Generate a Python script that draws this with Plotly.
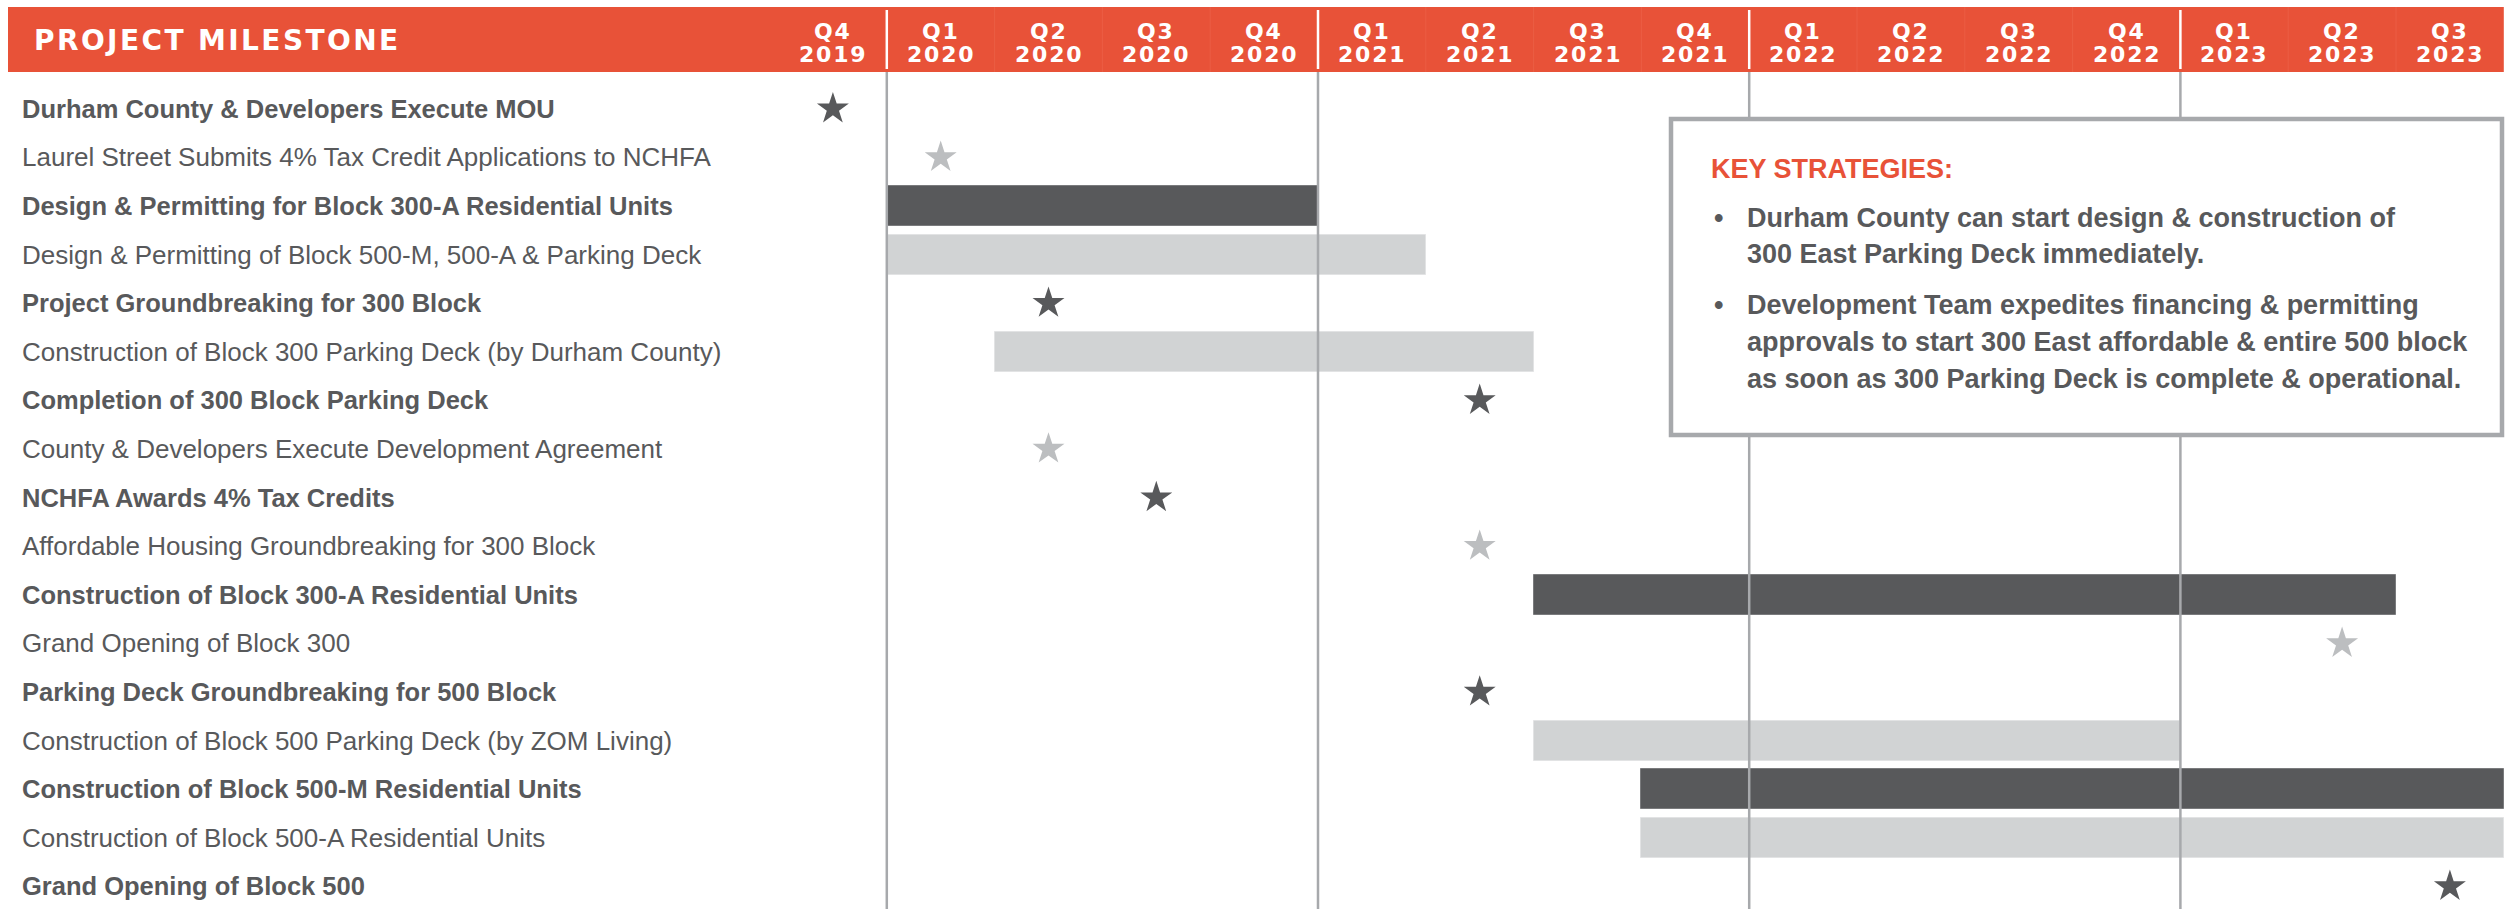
import plotly.graph_objects as go

# ---------------- data ----------------
QUARTERS = ["Q4 2019", "Q1 2020", "Q2 2020", "Q3 2020", "Q4 2020",
            "Q1 2021", "Q2 2021", "Q3 2021", "Q4 2021",
            "Q1 2022", "Q2 2022", "Q3 2022", "Q4 2022",
            "Q1 2023", "Q2 2023", "Q3 2023"]
QTR_LABELS = ["Q4", "Q1", "Q2", "Q3", "Q4", "Q1", "Q2", "Q3", "Q4",
              "Q1", "Q2", "Q3", "Q4", "Q1", "Q2", "Q3"]
YEAR_LABELS = ["2019", "2020", "2020", "2020", "2020", "2021", "2021", "2021", "2021",
               "2022", "2022", "2022", "2022", "2023", "2023", "2023"]

MILESTONES = [
    "Durham County & Developers Execute MOU",
    "Laurel Street Submits 4% Tax Credit Applications to NCHFA",
    "Design & Permitting for Block 300-A Residential Units",
    "Design & Permitting of Block 500-M, 500-A & Parking Deck",
    "Project Groundbreaking for 300 Block",
    "Construction of Block 300 Parking Deck (by Durham County)",
    "Completion of 300 Block Parking Deck",
    "County & Developers Execute Development Agreement",
    "NCHFA Awards 4% Tax Credits",
    "Affordable Housing Groundbreaking for 300 Block",
    "Construction of Block 300-A Residential Units",
    "Grand Opening of Block 300",
    "Parking Deck Groundbreaking for 500 Block",
    "Construction of Block 500 Parking Deck (by ZOM Living)",
    "Construction of Block 500-M Residential Units",
    "Construction of Block 500-A Residential Units",
    "Grand Opening of Block 500",
]
LABEL_BOLD = [True, False, True, False, True, False, True, False, True,
              False, True, False, True, False, True, False, True]

BAR_TASKS = [
    "Design & Permitting for Block 300-A Residential Units",
    "Design & Permitting of Block 500-M, 500-A & Parking Deck",
    "Construction of Block 300 Parking Deck (by Durham County)",
    "Construction of Block 300-A Residential Units",
    "Construction of Block 500 Parking Deck (by ZOM Living)",
    "Construction of Block 500-M Residential Units",
    "Construction of Block 500-A Residential Units",
]
BAR_START = ["Q1 2020", "Q1 2020", "Q2 2020", "Q3 2021", "Q3 2021", "Q4 2021", "Q4 2021"]
BAR_END = ["Q4 2020", "Q1 2021", "Q2 2021", "Q2 2023", "Q4 2022", "Q3 2023", "Q3 2023"]
BAR_SHADE = ["dark", "light", "light", "dark", "light", "dark", "light"]

STAR_TASKS = [
    "Durham County & Developers Execute MOU",
    "Laurel Street Submits 4% Tax Credit Applications to NCHFA",
    "Project Groundbreaking for 300 Block",
    "Completion of 300 Block Parking Deck",
    "County & Developers Execute Development Agreement",
    "NCHFA Awards 4% Tax Credits",
    "Affordable Housing Groundbreaking for 300 Block",
    "Grand Opening of Block 300",
    "Parking Deck Groundbreaking for 500 Block",
    "Grand Opening of Block 500",
]
STAR_QUARTER = ["Q4 2019", "Q1 2020", "Q2 2020", "Q2 2021", "Q2 2020",
                "Q3 2020", "Q2 2021", "Q2 2023", "Q2 2021", "Q3 2023"]
STAR_SHADE = ["dark", "light", "dark", "dark", "light",
              "dark", "light", "light", "dark", "dark"]

KEY_TITLE = "KEY STRATEGIES:"
KEY_BULLETS = [
    ["Durham County can start design & construction of",
     "300 East Parking Deck immediately."],
    ["Development Team expedites financing & permitting",
     "approvals to start 300 East affordable & entire 500 block",
     "as soon as 300 Parking Deck is complete & operational."],
]

# ---------------- style ----------------
W, H = 2516, 909
ORANGE = "#E85238"
DARK = "#58595B"
LIGHT = "#D1D3D4"
LIGHT_STAR = "#BCBEC0"
GRID = "#A7A9AC"
TEXT = "#58595B"
SANS = "Liberation Sans, Arial, Helvetica, sans-serif"
WIDE = "DejaVu Sans, Verdana, sans-serif"

X0_PX, Q_PX = 779.0, 107.8          # left edge of first quarter, quarter width
ROW0_PX, ROW_PX = 108.8, 48.6       # first row centre, row pitch
HEAD_TOP, HEAD_BOT = 7, 72

def px_x(p):
    return p / W

def px_y(p):
    return 1 - p / H

SHADE_COL = {"dark": DARK, "light": LIGHT}
SHADE_LINE = {"dark": "#7A7B7D", "light": "#E2E3E4"}
STAR_COL = {"dark": DARK, "light": LIGHT_STAR}

fig = go.Figure()

# bars
for shade in ["light", "dark"]:
    ys, xs, bases = [], [], []
    for t, s, e, sh in zip(BAR_TASKS, BAR_START, BAR_END, BAR_SHADE):
        if sh != shade:
            continue
        si = QUARTERS.index(s)
        ei = QUARTERS.index(e) + 1
        ys.append(MILESTONES.index(t))
        bases.append(si)
        xs.append(ei - si)
    fig.add_trace(go.Bar(
        orientation="h", y=ys, x=xs, base=bases, width=40 / ROW_PX,
        marker=dict(color=SHADE_COL[shade], line=dict(color=SHADE_LINE[shade], width=1)),
        hoverinfo="skip", showlegend=False,
    ))

# stars
for shade in ["light", "dark"]:
    xs, ys = [], []
    for t, q, sh in zip(STAR_TASKS, STAR_QUARTER, STAR_SHADE):
        if sh != shade:
            continue
        xs.append(QUARTERS.index(q) + 0.5)
        ys.append(MILESTONES.index(t))
    fig.add_trace(go.Scatter(
        x=xs, y=ys, mode="markers",
        marker=dict(symbol="star", size=24, color=STAR_COL[shade], line=dict(width=0)),
        hoverinfo="skip", showlegend=False,
    ))

shapes = []
# header band
shapes.append(dict(type="rect", xref="paper", yref="paper",
                   x0=px_x(8), x1=px_x(X0_PX + Q_PX * len(QUARTERS)),
                   y0=px_y(HEAD_BOT), y1=px_y(HEAD_TOP),
                   fillcolor=ORANGE, line=dict(width=0), layer="below"))
# header separators
for i in range(1, len(QUARTERS)):
    if QTR_LABELS[i] == "Q1":
        shapes.append(dict(type="line", xref="x", yref="paper", x0=i, x1=i,
                           y0=px_y(69), y1=px_y(10),
                           line=dict(color="white", width=2.5), layer="above"))
    else:
        shapes.append(dict(type="line", xref="x", yref="paper", x0=i, x1=i,
                           y0=px_y(HEAD_BOT), y1=px_y(HEAD_TOP),
                           line=dict(color="#EB5D44", width=1), layer="above"))
# vertical year grid lines (drawn above bars)
for i in range(1, len(QUARTERS)):
    if QTR_LABELS[i] == "Q1":
        shapes.append(dict(type="line", xref="x", yref="paper", x0=i, x1=i,
                           y0=0, y1=px_y(HEAD_BOT),
                           line=dict(color=GRID, width=2.5), layer="above"))
# key strategies box
shapes.append(dict(type="rect", xref="paper", yref="paper",
                   x0=px_x(1671), x1=px_x(2502), y0=px_y(435), y1=px_y(119),
                   fillcolor="white", line=dict(color=GRID, width=4.5), layer="above"))

annotations = []
# header title
annotations.append(dict(
    xref="paper", yref="paper", x=px_x(32), y=px_y((HEAD_TOP + HEAD_BOT) / 2 + 1),
    xanchor="left", yanchor="middle", showarrow=False,
    text='<b><span style="letter-spacing:2.4px">PROJECT MILESTONE</span></b>',
    font=dict(family=WIDE, size=28, color="white")))
# quarter labels
for i, (q, y) in enumerate(zip(QTR_LABELS, YEAR_LABELS)):
    annotations.append(dict(
        xref="x", yref="paper", x=i + 0.5, y=px_y(31), xanchor="center", yanchor="middle",
        showarrow=False, text='<b><span style="letter-spacing:1.8px">%s</span></b>' % q,
        font=dict(family=WIDE, size=22, color="white")))
    annotations.append(dict(
        xref="x", yref="paper", x=i + 0.5, y=px_y(54), xanchor="center", yanchor="middle",
        showarrow=False, text='<b><span style="letter-spacing:1.8px">%s</span></b>' % y,
        font=dict(family=WIDE, size=22, color="white")))
# row labels
for i, (lab, b) in enumerate(zip(MILESTONES, LABEL_BOLD)):
    annotations.append(dict(
        xref="paper", yref="y", x=px_x(20), y=i, xanchor="left", yanchor="middle",
        showarrow=False, text=("<b>%s</b>" % lab) if b else lab,
        font=dict(family=SANS, size=25.5 if b else 26, color=TEXT)))
# key strategies text
KEY_SIZE = 27
annotations.append(dict(
    xref="paper", yref="paper", x=px_x(1709), y=px_y(168.5), xanchor="left", yanchor="middle",
    showarrow=False, text="<b>%s</b>" % KEY_TITLE,
    font=dict(family=SANS, size=KEY_SIZE, color=ORANGE)))
line_y = [[218, 254], [305, 342, 379]]
for bullet, ys in zip(KEY_BULLETS, line_y):
    annotations.append(dict(
        xref="paper", yref="paper", x=px_x(1718), y=px_y(ys[0]), xanchor="center",
        yanchor="middle", showarrow=False, text="<b>•</b>",
        font=dict(family=SANS, size=KEY_SIZE, color=TEXT)))
    for line, yy in zip(bullet, ys):
        annotations.append(dict(
            xref="paper", yref="paper", x=px_x(1745), y=px_y(yy), xanchor="left",
            yanchor="middle", showarrow=False, text="<b>%s</b>" % line,
            font=dict(family=SANS, size=KEY_SIZE, color=TEXT)))

fig.update_layout(
    width=W, height=H, margin=dict(l=0, r=0, t=0, b=0, pad=0),
    paper_bgcolor="white", plot_bgcolor="white",
    barmode="overlay", bargap=0,
    xaxis=dict(range=[-X0_PX / Q_PX, (W - X0_PX) / Q_PX], visible=False, fixedrange=True),
    yaxis=dict(range=[(H - ROW0_PX) / ROW_PX, -ROW0_PX / ROW_PX], visible=False, fixedrange=True),
    shapes=shapes, annotations=annotations, showlegend=False,
)

fig.write_html("out.html", config={"displayModeBar": False})
